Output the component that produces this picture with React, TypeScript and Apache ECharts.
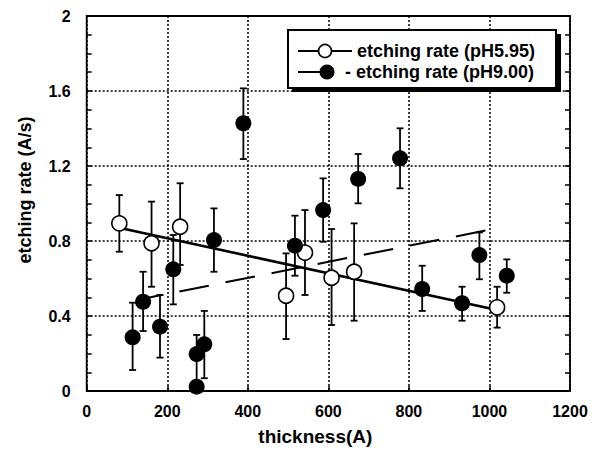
import React, { useEffect, useRef } from "react";
import * as echarts from "echarts";

// ---- data ----
const openX = [81, 161, 232, 495, 542, 608, 664, 1019];
const openY = [0.894, 0.788, 0.876, 0.508, 0.738, 0.604, 0.636, 0.446];
const openLow = [0.743, 0.556, 0.672, 0.277, 0.512, 0.352, 0.375, 0.338];
const openHigh = [1.045, 1.01, 1.108, 0.734, 0.965, 0.864, 0.894, 0.556];

const filledX = [114, 140, 182, 215, 273, 292, 273, 316, 389, 517, 587, 674, 778, 833, 932, 975, 1043];
const filledY = [0.286, 0.476, 0.343, 0.649, 0.197, 0.249, 0.023, 0.805, 1.428, 0.775, 0.965, 1.131, 1.241, 0.544, 0.468, 0.725, 0.615];
const filledLow = [0.112, 0.32, 0.178, 0.462, 0.023, 0.068, null, 0.636, 1.237, 0.615, 0.796, 1.001, 1.081, 0.427, 0.375, 0.596, 0.524];
const filledHigh = [0.471, 0.636, 0.512, 0.832, 0.299, 0.427, null, 0.974, 1.614, 0.935, 1.134, 1.264, 1.401, 0.668, 0.556, 0.846, 0.702];

const fitOpenX = [86, 1019];
const fitOpenY = [0.868, 0.432];
const fitFilledX = [140, 1009];
const fitFilledY = [0.492, 0.864];

const xTicks = [0, 200, 400, 600, 800, 1000, 1200];
const yTicks = [0, 0.4, 0.8, 1.2, 1.6, 2];

const legendLabels = ["etching rate (pH5.95)", "- etching rate (pH9.00)"];
const xTitle = "thickness(A)";
const yTitle = "etching rate (A/s)";

const FONT = "'Liberation Sans', Arial, sans-serif";

function errData(xs: number[], lo: (number | null)[], hi: (number | null)[]) {
  const out: any[] = [];
  xs.forEach((x, i) => {
    if (lo[i] != null && hi[i] != null) out.push([x, lo[i], hi[i]]);
  });
  return out;
}

function renderErr(params: any, api: any) {
  const x = api.value(0);
  const p1 = api.coord([x, api.value(1)]);
  const p2 = api.coord([x, api.value(2)]);
  const cw = 3.5;
  const style = { stroke: "#000", lineWidth: 1.8 };
  return {
    type: "group",
    children: [
      { type: "line", shape: { x1: p1[0], y1: p1[1], x2: p2[0], y2: p2[1] }, style },
      { type: "line", shape: { x1: p1[0] - cw, y1: p1[1], x2: p1[0] + cw, y2: p1[1] }, style },
      { type: "line", shape: { x1: p2[0] - cw, y1: p2[1], x2: p2[0] + cw, y2: p2[1] }, style },
    ],
  };
}

export default function App() {
  const ref = useRef<HTMLDivElement>(null);
  useEffect(() => {
    if (!ref.current) return;
    const chart = echarts.init(ref.current, null, { renderer: "svg" });
    const dotted = { color: "#000", width: 1.5, type: [2, 2] as any };
    const yAxisBase = {
      type: "value",
      min: yTicks[0],
      max: yTicks[yTicks.length - 1],
      interval: yTicks[1] - yTicks[0],
      axisLine: { show: false },
      axisTick: { show: true, inside: true, length: 5, lineStyle: { color: "#000", width: 1.5 } },
      minorTick: { show: true, splitNumber: 4, length: 5, lineStyle: { color: "#000", width: 1.5 } },
    };
    chart.setOption({
      animation: false,
      backgroundColor: "#fff",
      grid: {
        left: 86.7,
        right: 27,
        top: 16,
        bottom: 66,
        show: true,
        borderColor: "#000",
        borderWidth: 1.8,
        backgroundColor: "transparent",
      },
      xAxis: {
        type: "value",
        min: xTicks[0],
        max: xTicks[xTicks.length - 1],
        interval: xTicks[1] - xTicks[0],
        axisLine: { show: false },
        axisTick: { show: true, inside: true, length: 5, lineStyle: { color: "#000", width: 1.5 } },
        splitLine: { show: true, lineStyle: dotted },
        axisLabel: {
          color: "#000",
          fontFamily: FONT,
          fontWeight: "bold",
          fontSize: 16,
          margin: 12,
          formatter: (v: number) => String(v),
        },
        name: xTitle,
        nameLocation: "middle",
        nameGap: 36,
        nameTextStyle: { color: "#000", fontFamily: FONT, fontWeight: "bold", fontSize: 19, padding: [0, 26, 0, 0] },
      },
      yAxis: [
        {
          ...yAxisBase,
          position: "left",
          splitLine: { show: true, lineStyle: dotted },
          axisLabel: {
            color: "#000",
            fontFamily: FONT,
            fontWeight: "bold",
            fontSize: 16,
            margin: 16,
            formatter: (v: number) => String(+v.toFixed(1)),
          },
          name: yTitle,
          nameLocation: "middle",
          nameGap: 53,
          nameTextStyle: { color: "#000", fontFamily: FONT, fontWeight: "bold", fontSize: 18, padding: [0, 0, 0, 27] },
        },
        {
          ...yAxisBase,
          position: "right",
          splitLine: { show: false },
          axisLabel: { show: false },
        },
      ],
      series: [
        {
          type: "custom",
          renderItem: renderErr,
          data: errData(openX, openLow, openHigh),
          encode: { x: 0, y: [1, 2] },
          z: 2,
          silent: true,
        },
        {
          type: "custom",
          renderItem: renderErr,
          data: errData(filledX, filledLow, filledHigh),
          encode: { x: 0, y: [1, 2] },
          z: 2,
          silent: true,
        },
        {
          type: "line",
          data: fitOpenX.map((x, i) => [x, fitOpenY[i]]),
          symbol: "none",
          lineStyle: { color: "#000", width: 2.6 },
          z: 3,
        },
        {
          type: "line",
          data: fitFilledX.map((x, i) => [x, fitFilledY[i]]),
          symbol: "none",
          lineStyle: { color: "#000", width: 2, type: [30, 17], dashOffset: 10 },
          z: 3,
        },
        {
          type: "scatter",
          data: openX.map((x, i) => [x, openY[i]]),
          symbol: "circle",
          symbolSize: 15,
          itemStyle: { color: "#fff", borderColor: "#000", borderWidth: 1.6, opacity: 1 },
          z: 4,
        },
        {
          type: "scatter",
          data: filledX.map((x, i) => [x, filledY[i]]),
          symbol: "circle",
          symbolSize: 16,
          itemStyle: { color: "#000", opacity: 1 },
          z: 5,
        },
      ],
      graphic: [
        { type: "rect", shape: { x: 292, y: 34, width: 269, height: 58 }, style: { fill: "#000" }, z: 100 },
        { type: "rect", shape: { x: 288, y: 30, width: 268, height: 58 }, style: { fill: "#fff", stroke: "#000", lineWidth: 2 }, z: 101 },
        { type: "line", shape: { x1: 298, y1: 51, x2: 352, y2: 51 }, style: { stroke: "#000", lineWidth: 2 }, z: 102 },
        { type: "circle", shape: { cx: 325, cy: 51, r: 6.5 }, style: { fill: "#fff", stroke: "#000", lineWidth: 1.6 }, z: 103 },
        {
          type: "text",
          x: 357,
          y: 51,
          style: { text: legendLabels[0], fill: "#000", font: `bold 18px ${FONT}`, textVerticalAlign: "middle", verticalAlign: "middle" },
          z: 103,
        },
        { type: "line", shape: { x1: 298, y1: 72, x2: 322, y2: 72 }, style: { stroke: "#000", lineWidth: 2 }, z: 102 },
        { type: "circle", shape: { cx: 327, cy: 72, r: 7.5 }, style: { fill: "#000" }, z: 103 },
        {
          type: "text",
          x: 345,
          y: 72,
          style: { text: legendLabels[1], fill: "#000", font: `bold 18px ${FONT}`, textVerticalAlign: "middle", verticalAlign: "middle" },
          z: 103,
        },
      ],
    });
    return () => chart.dispose();
  }, []);
  return <div ref={ref} style={{ position: "absolute", left: 0, top: 0, width: 597, height: 457 }} />;
}
